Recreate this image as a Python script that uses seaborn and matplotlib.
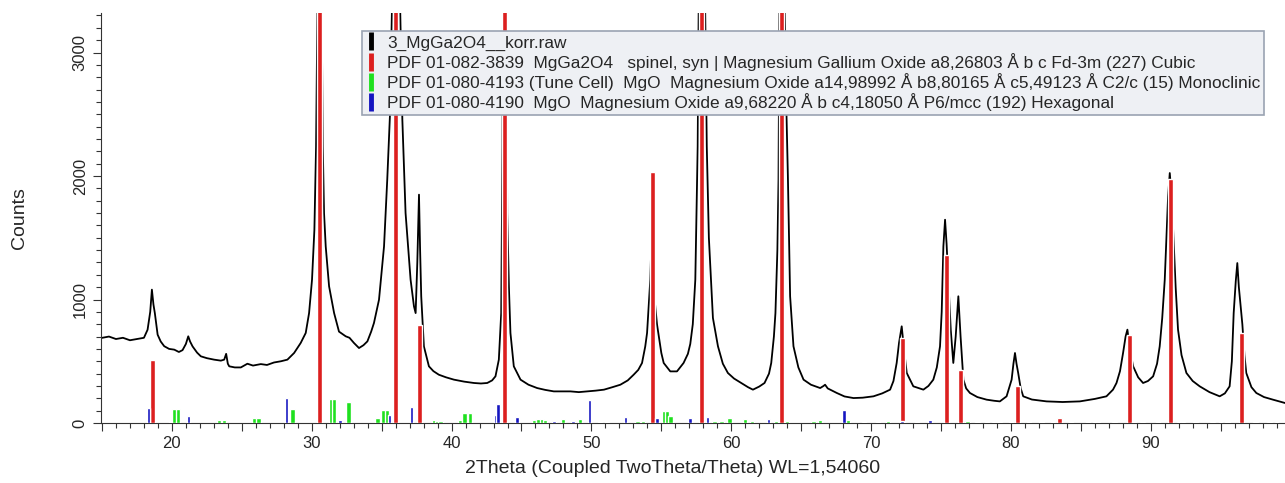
import numpy as np
import pandas as pd
import matplotlib.pyplot as plt
import seaborn as sns
from matplotlib.lines import Line2D
from matplotlib.ticker import MultipleLocator, FuncFormatter

# Messkurve
two_theta = [14.93, 15.5, 16.0, 16.5, 17.0, 17.5, 18.0, 18.26, 18.45, 18.57, 18.68, 18.78, 18.98,
             19.2, 19.45, 19.8, 20.17, 20.5, 20.76, 21.0, 21.17, 21.3, 21.48, 21.8, 22.07, 22.5,
             23.02, 23.5, 23.74, 23.88, 24.0, 24.1, 24.5, 24.93, 25.4, 25.8, 26.36, 26.8, 27.3,
             27.8, 28.26, 28.74, 29.21, 29.57, 29.81, 30.02, 30.19, 30.31, 30.42, 30.56, 30.7,
             30.79, 30.88, 31.0, 31.24, 31.6, 31.95, 32.2, 32.43, 32.7, 33.02, 33.38, 33.7, 33.98,
             34.25, 34.45, 34.81, 35.17, 35.4, 35.6, 35.76, 36.0, 36.3, 36.48, 36.71, 37.07, 37.31,
             37.43, 37.55, 37.67, 37.75, 37.83, 38.02, 38.38, 38.7, 39.09, 39.6, 40.17, 40.9, 41.6,
             42.1, 42.55, 42.9, 43.14, 43.38, 43.55, 43.64, 43.68, 43.78, 43.9, 43.98, 44.1, 44.21,
             44.45, 44.93, 45.5, 46.12, 46.7, 47.31, 48.0, 48.5, 49.1, 49.7, 50.3, 50.9, 51.5,
             52.07, 52.6, 53.02, 53.35, 53.62, 53.85, 53.98, 54.1, 54.21, 54.32, 54.42, 54.52,
             54.69, 55.0, 55.17, 55.64, 56.12, 56.59, 56.9, 57.07, 57.25, 57.43, 57.6, 57.68, 57.9,
             58.12, 58.25, 58.4, 58.69, 59.05, 59.4, 59.76, 60.2, 60.71, 61.2, 61.55, 62.0, 62.38,
             62.7, 62.86, 63.05, 63.16, 63.3, 63.38, 63.45, 63.62, 63.8, 63.95, 64.05, 64.21, 64.45,
             64.8, 65.17, 65.7, 66.36, 66.6, 66.71, 66.9, 67.55, 68.1, 68.74, 69.4, 70.17, 70.8,
             71.36, 71.6, 71.83, 72.0, 72.19, 72.35, 72.55, 73.02, 73.74, 74.1, 74.45, 74.7, 74.93,
             75.05, 75.17, 75.29, 75.4, 75.52, 75.7, 75.88, 76.05, 76.24, 76.4, 76.6, 76.8, 77.07,
             77.6, 78.26, 78.8, 79.21, 79.69, 80.05, 80.18, 80.29, 80.4, 80.52, 80.7, 80.88, 81.5,
             82.55, 83.7, 84.93, 86.0, 86.83, 87.3, 87.55, 87.8, 88.02, 88.2, 88.33, 88.5, 88.74,
             89.1, 89.45, 89.8, 90.17, 90.45, 90.64, 90.82, 91.0, 91.24, 91.36, 91.48, 91.6, 91.78,
             91.95, 92.2, 92.55, 93.0, 93.5, 94.2, 94.93, 95.3, 95.64, 95.8, 95.93, 96.08, 96.19,
             96.3, 96.42, 96.55, 96.7, 96.83, 97.2, 97.55, 98.1, 98.74, 99.6]
counts = [688, 700, 680, 690, 670, 680, 690, 755, 900, 1080, 960, 890, 715,
          660, 622, 600, 594, 575, 590, 640, 702, 660, 620, 570, 540, 525,
          513, 505, 513, 560, 480, 459, 450, 450, 480, 465, 477, 470, 490,
          500, 513, 567, 648, 729, 890, 1160, 1565, 2240, 3500, 9000, 3500,
          2240, 1700, 1430, 1107, 890, 740, 720, 702, 690, 648, 607, 630, 661,
          740, 810, 998, 1430, 1970, 2510, 3500, 12000, 3500, 2456, 1700, 1160, 945,
          890, 1300, 1849, 1400, 1026, 621, 459, 420, 391, 370, 351, 335, 324,
          320, 324, 345, 378, 513, 890, 2240, 3500, 7000, 3500, 1700, 1100, 729,
          459, 351, 310, 283, 268, 256, 256, 256, 250, 256, 262, 270, 290,
          310, 345, 391, 430, 486, 620, 729, 950, 1160, 1560, 1200, 1000,
          800, 567, 486, 418, 418, 486, 560, 640, 800, 1160, 2240, 3500, 8000,
          3500, 2240, 1500, 850, 621, 480, 405, 360, 324, 290, 270, 295, 324,
          400, 486, 700, 890, 1400, 1970, 3500, 9000, 3500, 2500, 2000, 1026, 621,
          450, 351, 310, 283, 300, 310, 280, 243, 215, 202, 205, 216, 240,
          270, 340, 486, 650, 783, 600, 405, 297, 270, 300, 351, 450, 621,
          900, 1430, 1646, 1450, 1160, 750, 486, 700, 1026, 700, 351, 280, 243,
          210, 189, 180, 175, 216, 351, 480, 567, 480, 405, 280, 216, 190,
          175, 170, 175, 195, 216, 270, 324, 420, 567, 700, 756, 600, 459,
          370, 324, 340, 378, 480, 621, 850, 1160, 1835, 2024, 1850, 1565, 1100,
          756, 550, 405, 340, 297, 250, 216, 240, 297, 500, 890, 1150, 1295,
          1100, 960, 800, 550, 405, 290, 243, 210, 189, 162]

# Referenzlinien
spinel_pos = [18.6, 30.57, 36.0, 37.7, 43.78, 54.35, 57.9, 63.62, 72.22, 75.38, 76.38,
              80.45, 83.5, 88.45, 91.43, 96.48]
spinel_int = [510, 5000, 5000, 796, 5000, 2030, 5000, 5000, 688, 1363, 432,
              300, 40, 715, 1978, 729]

mono_pos = [19.95, 20.2, 20.45, 23.38, 23.71, 25.9, 26.2, 28.62, 31.36, 31.6, 32.62, 34.69,
            35.12, 35.4, 38.75, 39.0, 39.2, 40.6, 40.93, 41.31, 45.9, 46.2, 46.45, 46.7,
            47.98, 49.2, 50.6, 51.1, 53.3, 53.7, 55.2, 55.4, 55.65, 58.8, 59.3, 59.88, 61.0,
            61.5, 63.2, 64.0, 65.88, 66.36, 68.3, 69.5, 70.5, 71.2, 73.3, 76.9, 77.6, 78.3,
            79.2, 81.3, 82.2, 84.3, 85.5, 86.2, 87.4, 89.4, 90.5, 92.3, 93.2, 94.4, 95.5,
            97.5, 98.5]
mono_int = [12, 113, 113, 27, 27, 40, 40, 113, 194, 194, 167, 40,
            108, 108, 25, 20, 20, 25, 81, 81, 25, 35, 35, 25,
            30, 30, 12, 12, 15, 20, 94, 94, 60, 15, 20, 40, 35,
            15, 15, 20, 20, 25, 25, 12, 12, 15, 12, 15, 12, 12,
            12, 12, 12, 12, 12, 12, 12, 12, 12, 12, 12, 12, 12,
            12, 12]

hex_pos = [18.33, 21.19, 28.19, 32.02, 35.55, 37.14, 43.14, 43.31, 44.69, 47.31, 48.69,
           49.86, 52.43, 54.69, 57.05, 58.31, 62.67, 68.07, 72.19, 74.21, 78.8, 80.0,
           83.0, 86.0, 88.8, 92.0, 95.0, 99.0]
hex_int = [121, 54, 202, 22, 67, 127, 67, 157, 45, 15, 15,
           184, 45, 40, 40, 45, 30, 103, 20, 27, 10, 12,
           10, 12, 10, 10, 10, 10]

legend_labels = [
    '3_MgGa2O4__korr.raw',
    'PDF 01-082-3839  MgGa2O4   spinel, syn | Magnesium Gallium Oxide a8,26803 Å b c Fd-3m (227) Cubic',
    'PDF 01-080-4193 (Tune Cell)  MgO  Magnesium Oxide a14,98992 Å b8,80165 Å c5,49123 Å C2/c (15) Monoclinic',
    'PDF 01-080-4190  MgO  Magnesium Oxide a9,68220 Å b c4,18050 Å P6/mcc (192) Hexagonal',
]
colors = ['black', '#dc1f1f', '#1fe01f', '#1414c0']

df = pd.DataFrame({'2theta': two_theta, 'counts': counts})

sns.set_theme(style='ticks')
plt.rcParams['font.family'] = ['Liberation Sans', 'DejaVu Sans']

fig = plt.figure(figsize=(12.85, 4.83), dpi=100)
ax = fig.add_axes([101 / 1285, 60 / 483, 1184 / 1285, 410 / 483])

sns.lineplot(data=df, x='2theta', y='counts', color='black', lw=1.3, ax=ax,
             sort=False, estimator=None, zorder=2)
ax.bar(spinel_pos, spinel_int, width=0.36, color=colors[1], zorder=3)
ax.bar(mono_pos, mono_int, width=0.32, color=colors[2], zorder=3)
ax.bar(hex_pos, hex_int, width=0.26, color=colors[3], zorder=3)

ax.set_xlim(14.93, 99.6)
ax.set_ylim(0, 3320)
ax.xaxis.set_major_locator(MultipleLocator(5))
ax.xaxis.set_minor_locator(MultipleLocator(1))
ax.xaxis.set_major_formatter(FuncFormatter(lambda v, p: f'{v:.0f}' if v % 10 == 0 else ''))
ax.yaxis.set_major_locator(MultipleLocator(1000))
ax.yaxis.set_minor_locator(MultipleLocator(100))
ax.tick_params(which='major', length=6, width=0.8, labelsize=12, color='#333333')
ax.tick_params(which='minor', length=3.5, width=0.8, color='#333333')
for lab in ax.get_yticklabels():
    lab.set_rotation(90)
    lab.set_va('center')

for s in ['top', 'right']:
    ax.spines[s].set_visible(False)
for s in ['left', 'bottom']:
    ax.spines[s].set_color('#333333')
    ax.spines[s].set_linewidth(0.8)

ax.set_xlabel('2Theta (Coupled TwoTheta/Theta) WL=1,54060', fontsize=14)
ax.set_ylabel('Counts', fontsize=14)
ax.xaxis.set_label_coords(0.483, -0.09)
ax.yaxis.set_label_coords(-0.062, 0.5)

handles = [Line2D([0], [0], color=c, marker='|', ls='none', markersize=13, markeredgewidth=3.5)
           for c in colors]
leg = ax.legend(handles, legend_labels, loc='upper left', bbox_to_anchor=(0.2204, 0.956),
                borderaxespad=0, frameon=True, fancybox=False, framealpha=1,
                facecolor='#eef0f4', edgecolor='#9aa3b2', fontsize=12.4,
                handlelength=0.5, handletextpad=0.7, labelspacing=0.12, borderpad=0.25)
leg.get_frame().set_linewidth(1.2)
leg.set_zorder(10)

fig.savefig('out.png', dpi=100)
